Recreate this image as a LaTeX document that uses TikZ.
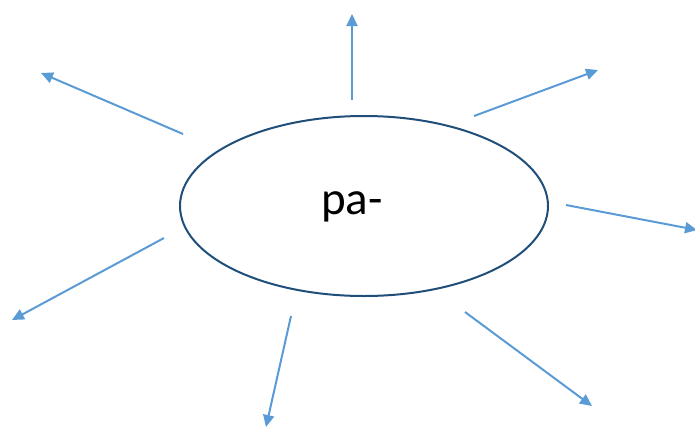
\documentclass[tikz,border=0pt]{standalone}
\usepackage{fontspec}
\setmainfont{Carlito}
\usetikzlibrary{arrows.meta,shapes.geometric}
\definecolor{arrowblue}{HTML}{5B9BD5}
\definecolor{ellblue}{HTML}{1F4E79}
\tikzset{
  ray/.style={draw=arrowblue, line width=2pt, -{Triangle[length=12pt,width=11pt]}},
  hub/.style={ellipse, draw=ellblue, line width=2pt, minimum width=368pt, minimum height=180pt, inner sep=0pt}
}
\begin{document}
\begin{tikzpicture}[x=1pt,y=-1pt]
\useasboundingbox (0,0) rectangle (695,426);
\node[hub] (e) at (364,206) {};
\node[font=\fontsize{47}{52}\selectfont] (t) at (352,207) {pa-};
\coordinate (s1) at (352,100); \coordinate (e1) at (352,14);
\coordinate (s2) at (183,134); \coordinate (e2) at (41,73);
\coordinate (s3) at (474,116); \coordinate (e3) at (598,70);
\coordinate (s4) at (566,205); \coordinate (e4) at (697,230);
\coordinate (s5) at (465,312); \coordinate (e5) at (592,406);
\coordinate (s6) at (291,316); \coordinate (e6) at (266,427);
\coordinate (s7) at (164,238); \coordinate (e7) at (12,320);
\foreach \i in {1,...,7} {\draw[ray] (s\i) -- (e\i);}
\end{tikzpicture}
\end{document}
